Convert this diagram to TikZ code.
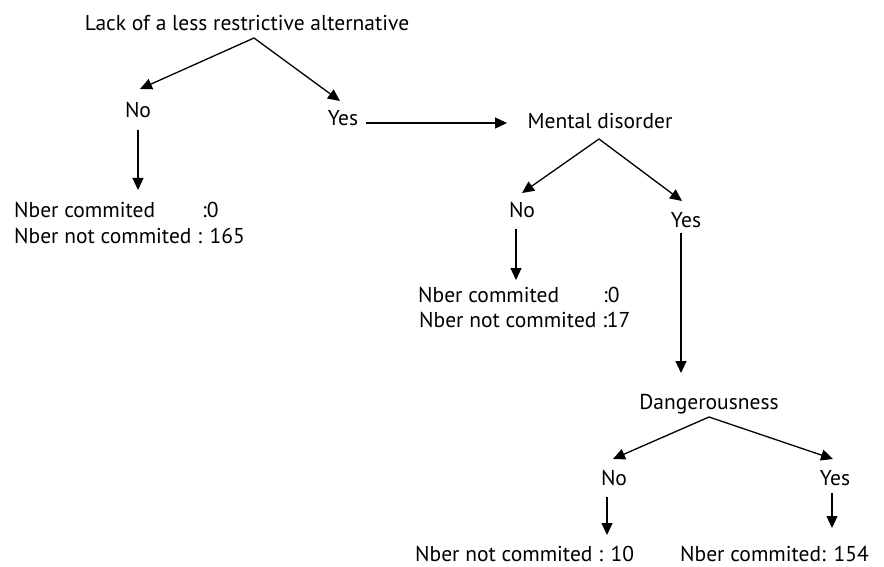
\documentclass[tikz,border=0pt]{standalone}
\usepackage{fontspec}
\setmainfont{PT Sans}
\usetikzlibrary{arrows.meta}
\begin{document}
\begin{tikzpicture}[x=1pt,y=-1pt,
  lbl/.style={inner sep=0pt,anchor=base,font=\fontsize{21.5}{25}\selectfont},
  lblw/.style={lbl,anchor=base west},
  arr/.style={line width=1.3pt,-{Triangle[length=12pt,width=11pt]}}]
\useasboundingbox (0,0) rectangle (884,567);
% nodes
\node[lbl] (root) at (247,31) {Lack of a less restrictive alternative};
\node[lbl] (no1) at (138,118) {No};
\node[lbl] (yes1) at (343,126) {Yes};
\node[lblw] (c1a) at (14,217) {\makebox[188pt][l]{Nber commited}:0};
\node[lblw] (c1b) at (14,243) {Nber not commited : 165};
\node[lbl] (md) at (600,129) {Mental disorder};
\node[lbl] (no2) at (522,217) {No};
\node[lbl] (yes2) at (686,227) {Yes};
\node[lblw] (c2a) at (418,302) {\makebox[185pt][l]{Nber commited}:0};
\node[lblw] (c2b) at (419,327) {Nber not commited :17};
\node[lbl] (dg) at (709,409) {Dangerousness};
\node[lbl] (no3) at (614,485) {No};
\node[lbl] (yes3) at (835,485) {Yes};
\node[lblw] (c3a) at (415,561) {Nber not commited : 10};
\node[lblw] (c3b) at (680,561) {Nber commited: 154};
% connector end points
\coordinate (rootS) at (254,38);
\coordinate (no1N) at (140,89);
\coordinate (yes1N) at (340,101);
\coordinate (no1S) at (138,130);
\coordinate (c1aN) at (138,190);
\coordinate (yes1E) at (366,123);
\coordinate (mdW) at (507,123);
\coordinate (mdS) at (599,139);
\coordinate (no2N) at (522,193);
\coordinate (yes2N) at (682,201);
\coordinate (no2S) at (516,229);
\coordinate (c2aN) at (516,280);
\coordinate (yes2S) at (681,233);
\coordinate (dgN) at (681,373);
\coordinate (dgS) at (709,417);
\coordinate (no3N) at (613,459);
\coordinate (yes3N) at (833,459);
\coordinate (no3S) at (607,497);
\coordinate (c3aN) at (607,535);
\coordinate (yes3S) at (832,493);
\coordinate (c3bN) at (832,528);
% connectors
\draw[arr] (rootS) -- (no1N);
\draw[arr] (rootS) -- (yes1N);
\draw[arr] (no1S) -- (c1aN);
\draw[arr] (yes1E) -- (mdW);
\draw[arr] (mdS) -- (no2N);
\draw[arr] (mdS) -- (yes2N);
\draw[arr] (no2S) -- (c2aN);
\draw[arr] (yes2S) -- (dgN);
\draw[arr] (dgS) -- (no3N);
\draw[arr] (dgS) -- (yes3N);
\draw[arr] (no3S) -- (c3aN);
\draw[arr] (yes3S) -- (c3bN);
\end{tikzpicture}
\end{document}
